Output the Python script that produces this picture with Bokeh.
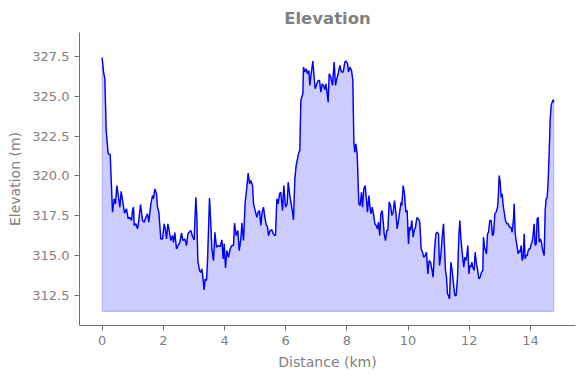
from bokeh.plotting import figure
from bokeh.models import FixedTicker, PrintfTickFormatter, Range1d
from bokeh.embed import file_html
from bokeh.resources import INLINE

title_text = "Elevation"
x_label = "Distance (km)"
y_label = "Elevation (m)"
x_ticks = [0, 2, 4, 6, 8, 10, 12, 14]
y_ticks = [312.5, 315.0, 317.5, 320.0, 322.5, 325.0, 327.5]
fill_base = 311.5

distance_km = [
    0.000, 0.045, 0.088, 0.132, 0.197, 0.263, 0.339, 0.393, 0.437, 0.480,
    0.535, 0.578, 0.622, 0.676, 0.731, 0.796, 0.851, 0.905, 0.960, 0.992,
    1.025, 1.047, 1.101, 1.156, 1.199, 1.254, 1.319, 1.374, 1.428, 1.483,
    1.526, 1.592, 1.646, 1.679, 1.722, 1.777, 1.810, 1.853, 1.918, 1.973,
    2.027, 2.071, 2.104, 2.147, 2.191, 2.245, 2.300, 2.332, 2.376, 2.430,
    2.485, 2.539, 2.594, 2.637, 2.702, 2.757, 2.801, 2.844, 2.899, 2.953,
    3.008, 3.062, 3.095, 3.127, 3.182, 3.226,
    3.258, 3.291, 3.334, 3.367, 3.411, 3.444, 3.509, 3.552, 3.585, 3.640,
    3.684, 3.738, 3.793, 3.858, 3.912, 3.956, 3.989, 4.032, 4.076, 4.131,
    4.185, 4.239, 4.294, 4.326, 4.381, 4.435, 4.479, 4.533, 4.566, 4.620,
    4.675, 4.718, 4.773, 4.817, 4.860, 4.915, 4.948, 5.001, 5.056, 5.099,
    5.143, 5.186, 5.230, 5.273, 5.317, 5.361, 5.404, 5.437, 5.491, 5.546,
    5.601, 5.666, 5.709, 5.753, 5.797, 5.840, 5.895, 5.938, 5.993, 6.047,
    6.080, 6.134, 6.178, 6.221, 6.254, 6.298, 6.341, 6.385, 6.429, 6.461,
    6.494, 6.526, 6.559, 6.581, 6.625, 6.668, 6.712, 6.756, 6.788, 6.832,
    6.886, 6.919, 6.962, 7.017, 7.061, 7.104, 7.147, 7.191, 7.234, 7.278,
    7.311, 7.343, 7.387, 7.420,
    7.474, 7.528, 7.583, 7.626, 7.670, 7.714, 7.768, 7.823, 7.877, 7.932,
    7.975, 8.019, 8.052, 8.095, 8.150, 8.193, 8.226, 8.258, 8.291, 8.335,
    8.389, 8.433, 8.476, 8.509, 8.553, 8.596, 8.640, 8.672, 8.716, 8.760,
    8.792, 8.825, 8.869, 8.912, 8.956, 8.999, 9.032, 9.075, 9.108, 9.152,
    9.184, 9.217, 9.260, 9.304, 9.337, 9.380, 9.424, 9.467, 9.511, 9.555,
    9.598, 9.642, 9.685, 9.729, 9.773, 9.794, 9.838, 9.881, 9.925, 9.968,
    10.012, 10.045, 10.077, 10.121, 10.164, 10.197, 10.241, 10.284, 10.339, 10.382,
    10.426, 10.470, 10.513, 10.557, 10.600, 10.644, 10.687, 10.731, 10.775, 10.818,
    10.862, 10.905, 10.949, 10.993, 11.025, 11.069, 11.113, 11.156,
    11.221, 11.254, 11.287, 11.319, 11.352, 11.396, 11.439, 11.483, 11.526, 11.570,
    11.614, 11.657, 11.690, 11.722, 11.755, 11.788, 11.820, 11.853, 11.886, 11.918,
    11.951, 11.984, 12.016, 12.049, 12.082, 12.114, 12.158, 12.191, 12.234, 12.267,
    12.311, 12.354, 12.398, 12.441, 12.463, 12.496, 12.528, 12.561, 12.594, 12.626,
    12.670, 12.714, 12.757, 12.790, 12.834, 12.877, 12.921, 12.943, 12.976, 13.008,
    13.041, 13.074, 13.106, 13.139, 13.183, 13.226, 13.270, 13.313, 13.357, 13.401,
    13.444, 13.466, 13.499, 13.531, 13.564, 13.597, 13.629, 13.662, 13.695, 13.727,
    13.760, 13.793, 13.825, 13.858, 13.891, 13.923, 13.956, 13.989, 14.021, 14.054,
    14.087, 14.119, 14.152, 14.185, 14.217, 14.250, 14.283, 14.315, 14.348, 14.381,
    14.413, 14.446, 14.479, 14.511, 14.544, 14.577, 14.609, 14.642, 14.675, 14.707,
    14.740, 14.762,
]

elevation_m = [
    327.42, 326.52, 326.10, 322.85, 321.39, 321.35, 317.73, 318.57, 318.25, 319.40,
    318.67, 318.04, 319.03, 318.36, 317.67, 317.94, 317.31, 317.41, 317.21, 317.83,
    318.04, 316.89, 317.00, 316.68, 317.21, 318.21, 317.21, 317.10, 317.41, 317.62,
    317.10, 318.25, 318.77, 318.57, 319.19, 318.88, 318.04, 317.73, 316.05, 316.05,
    317.00, 316.58, 316.05, 317.00, 316.58, 315.95, 316.26, 315.84, 316.45, 315.43,
    315.64, 315.84, 316.41, 315.95, 316.05, 315.64, 316.37, 316.47, 316.58, 316.20,
    315.99, 318.67, 317.41, 314.69, 314.07, 313.96,
    314.17, 313.65, 312.85, 313.54, 313.44, 314.69, 318.61, 317.00, 315.43, 314.69,
    316.47, 315.53, 315.64, 315.57, 315.99, 314.80, 315.74, 314.23, 315.32, 314.90,
    315.43, 315.64, 315.64, 317.04, 316.26, 316.58, 315.32, 316.05, 317.04, 315.95,
    318.36, 319.09, 320.18, 319.51, 319.72, 319.40, 318.25, 317.83, 317.41, 317.73,
    317.83, 316.89, 317.73, 318.04, 317.41, 316.95, 316.79, 316.26, 316.58, 316.62,
    316.33, 316.26, 318.57, 318.25, 318.88, 318.98, 317.83, 319.40, 318.04, 318.25,
    319.61, 318.77, 318.25, 317.73, 317.25, 319.82, 320.66, 321.08, 321.49, 321.60,
    324.74, 324.95, 325.16, 326.83, 326.52, 326.73, 326.41, 326.62, 325.68, 326.41,
    327.21, 326.41, 325.47, 325.78, 325.99, 325.99, 325.26, 325.78, 325.68, 325.41,
    325.78, 325.37, 324.63, 326.41,
    326.20, 325.68, 327.14, 325.68, 326.10, 326.41, 326.93, 326.52, 326.52, 327.14,
    327.21, 327.04, 326.52, 326.83, 326.62, 325.99, 322.12, 321.49, 322.02, 321.39,
    318.25, 318.15, 318.98, 318.04, 319.19, 319.40, 318.46, 317.73, 318.77, 317.94,
    317.62, 318.04, 317.62, 317.00, 316.89, 316.68, 317.10, 316.26, 317.62, 317.83,
    317.21, 316.37, 315.95, 316.58, 316.58, 318.36, 318.15, 317.52, 317.73, 318.46,
    317.73, 316.68, 317.21, 317.83, 318.36, 318.15, 319.40, 318.88, 317.73, 317.83,
    315.74, 316.79, 316.58, 317.21, 316.16, 316.58, 316.79, 317.37, 317.31, 317.10,
    315.43, 315.22, 314.90, 315.01, 315.22, 313.86, 314.69, 314.59, 314.17, 313.65,
    315.32, 316.37, 316.47, 316.37, 314.38, 315.01, 316.16, 317.00,
    314.07, 313.65, 312.60, 312.50, 312.29, 314.59, 314.07, 313.23, 312.50, 312.50,
    313.65, 316.16, 317.21, 316.16, 315.43, 314.80, 314.28, 314.90, 314.69, 315.01,
    315.64, 313.86, 314.38, 314.28, 314.59, 314.28, 314.07, 315.22, 314.48, 314.17,
    313.54, 313.65, 313.96, 314.07, 316.16, 315.53, 315.32, 315.11, 316.37, 316.47,
    317.21, 317.21, 316.26, 316.37, 317.62, 317.73, 318.04, 318.57, 320.03, 319.61,
    318.67, 318.88, 318.15, 317.73, 317.21, 317.00, 317.00, 316.79, 316.79, 316.47,
    317.31, 318.25, 316.37, 315.95, 315.53, 315.11, 315.32, 315.22, 315.64, 314.69,
    314.90, 316.37, 314.80, 315.01, 315.01, 315.32, 315.43, 315.43, 315.74, 315.84,
    316.37, 317.00, 315.64, 315.74, 317.31, 317.41, 315.84, 316.05, 315.95, 315.53,
    315.22, 315.01, 317.83, 318.57, 318.63, 319.72, 321.39, 323.48, 324.42, 324.63,
    324.78, 324.63,
]

text_color = "#808080"
axis_color = "#707070"

p = figure(
    width=584, height=378,
    x_range=Range1d(-0.74, 15.47), y_range=Range1d(310.62, 329.0),
    output_backend="svg", toolbar_location=None,
    min_border_left=79, min_border_right=9, min_border_top=32, min_border_bottom=53,
)

p.title.text = title_text
p.title.align = "center"
p.title.text_font = "DejaVu Sans"
p.title.text_font_size = "16.5px"
p.title.text_font_style = "bold"
p.title.text_color = text_color

# filled area under the profile (closed polygon down to the base)
patch_x = [distance_km[0]] + distance_km + [distance_km[-1]]
patch_y = [fill_base] + elevation_m + [fill_base]
p.patch(patch_x, patch_y, fill_color="blue", fill_alpha=0.2,
        line_color="blue", line_alpha=0.2, line_width=1.2)
p.line(distance_km, elevation_m, line_color="blue", line_width=1.4)

p.outline_line_color = None
p.xgrid.visible = False
p.ygrid.visible = False
p.background_fill_color = "white"
p.border_fill_color = "white"

p.xaxis.ticker = FixedTicker(ticks=x_ticks)
p.yaxis.ticker = FixedTicker(ticks=y_ticks)
p.yaxis.formatter = PrintfTickFormatter(format="%.1f")
p.xaxis.axis_label = x_label
p.yaxis.axis_label = y_label

for ax in (p.xaxis, p.yaxis):
    ax.axis_line_color = axis_color
    ax.axis_line_width = 1
    ax.major_tick_line_color = axis_color
    ax.major_tick_out = 5
    ax.major_tick_in = 0
    ax.minor_tick_line_color = None
    ax.major_label_text_color = text_color
    ax.major_label_text_font = "DejaVu Sans"
    ax.major_label_text_font_size = "13px"
    ax.major_label_standoff = 5
    ax.axis_label_text_color = text_color
    ax.axis_label_text_font = "DejaVu Sans"
    ax.axis_label_text_font_size = "14px"
    ax.axis_label_text_font_style = "normal"
    ax.axis_label_standoff = 6

open("out.html", "w").write(file_html(p, INLINE))
